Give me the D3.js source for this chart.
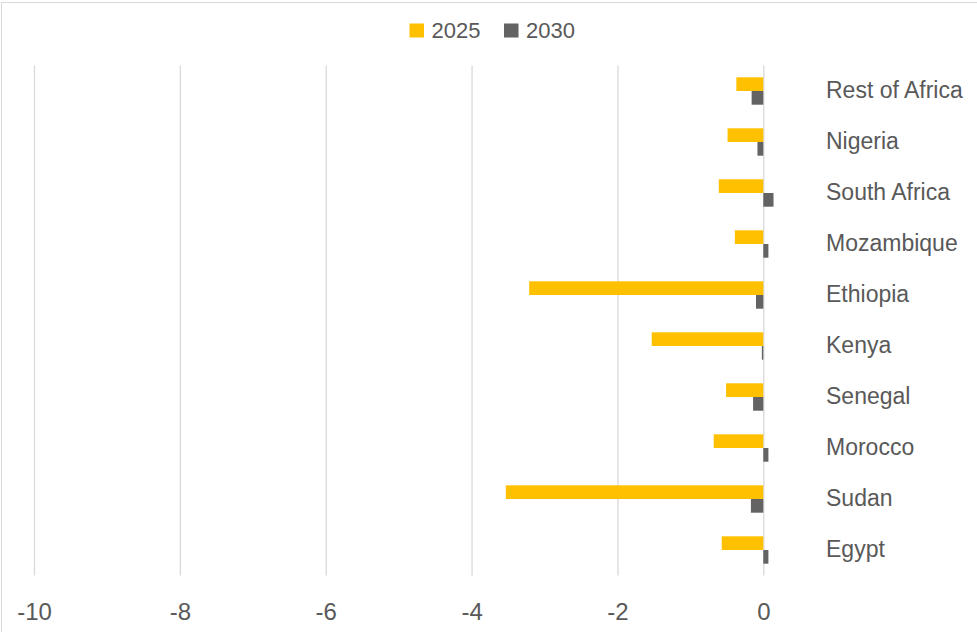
<!DOCTYPE html>
<html>
<head>
<meta charset="utf-8">
<script src="https://cdn.jsdelivr.net/npm/d3@7"></script>
<style>
  body { margin: 0; background: #fff; }
  svg text { font-family: "Liberation Sans", Arial, sans-serif; fill: #595959; }
</style>
</head>
<body>
<svg id="chart" width="977" height="632"></svg>
<script>
// categories top to bottom, as in the picture
const countries = ["Rest of Africa", "Nigeria", "South Africa", "Mozambique", "Ethiopia",
                   "Kenya", "Senegal", "Morocco", "Sudan", "Egypt"];
const series = ["2025", "2030"];
const values2025 = [-0.37, -0.49, -0.61, -0.39, -3.21, -1.53, -0.51, -0.68, -3.53, -0.57];
const values2030 = [-0.16, -0.08, 0.14, 0.07, -0.10, -0.02, -0.14, 0.07, -0.17, 0.07];
const xTicks = [-10, -8, -6, -4, -2, 0];
const colors = {"2025": "#FFC000", "2030": "#636363"};

const rows = countries.map((c, i) => ({country: c, "2025": values2025[i], "2030": values2030[i]}));

const svg = d3.select("#chart");

// chart border (only left/top edge visible in frame)
svg.append("rect")
    .attr("x", 1.5).attr("y", 2.5)
    .attr("width", 990).attr("height", 640)
    .attr("fill", "none").attr("stroke", "#d9d9d9");

let x = d3.scaleLinear().domain([-10, 0]).range([34, 763.3]);
let y = d3.scaleBand().domain(countries).range([65.5, 575.5]).padding(0);
let bw = y.bandwidth();
let barH = 13.7;
let y1 = d3.scaleBand().domain(series).range([bw / 2 - barH, bw / 2 + barH]);

// gridlines + tick labels (plain hyphen minus like the original)
let xAxis = svg.append("g")
    .attr("transform", "translate(0," + y.range()[1] + ")")
    .call(d3.axisBottom(x).tickValues(xTicks).tickSize(-(y.range()[1] - y.range()[0])).tickPadding(27).tickFormat(d => String(d)));
xAxis.select(".domain").remove();
xAxis.selectAll("line").attr("stroke", "#d9d9d9").attr("stroke-width", 1.3);
xAxis.selectAll("text").style("font-size", "24px").attr("fill", "#595959");

// bars
let groups = svg.append("g").selectAll("g")
    .data(rows)
    .enter().append("g")
    .attr("transform", d => "translate(0," + y(d.country) + ")");

groups.selectAll("rect")
    .data(d => series.map(s => ({key: s, value: d[s]})))
    .enter().append("rect")
    .attr("x", d => x(Math.min(0, d.value)))
    .attr("y", d => y1(d.key))
    .attr("width", d => Math.abs(x(d.value) - x(0)))
    .attr("height", y1.bandwidth())
    .attr("fill", d => colors[d.key]);

// category labels on the right
let yAxis = svg.append("g")
    .attr("transform", "translate(" + 812 + ",0)")
    .call(d3.axisRight(y).tickSize(0).tickPadding(14));
yAxis.select(".domain").remove();
yAxis.selectAll("text").style("font-size", "23px").attr("fill", "#595959");

// legend
let legend = svg.append("g");
let legendItems = [{key: "2025", x: 409.5}, {key: "2030", x: 504}];
legendItems.forEach(function (d) {
    legend.append("rect")
        .attr("x", d.x).attr("y", 23.5)
        .attr("width", 14.5).attr("height", 14)
        .attr("fill", colors[d.key]);
    legend.append("text")
        .attr("x", d.x + 22).attr("y", 38.3)
        .style("font-size", "22px")
        .text(d.key);
});
</script>
</body>
</html>
